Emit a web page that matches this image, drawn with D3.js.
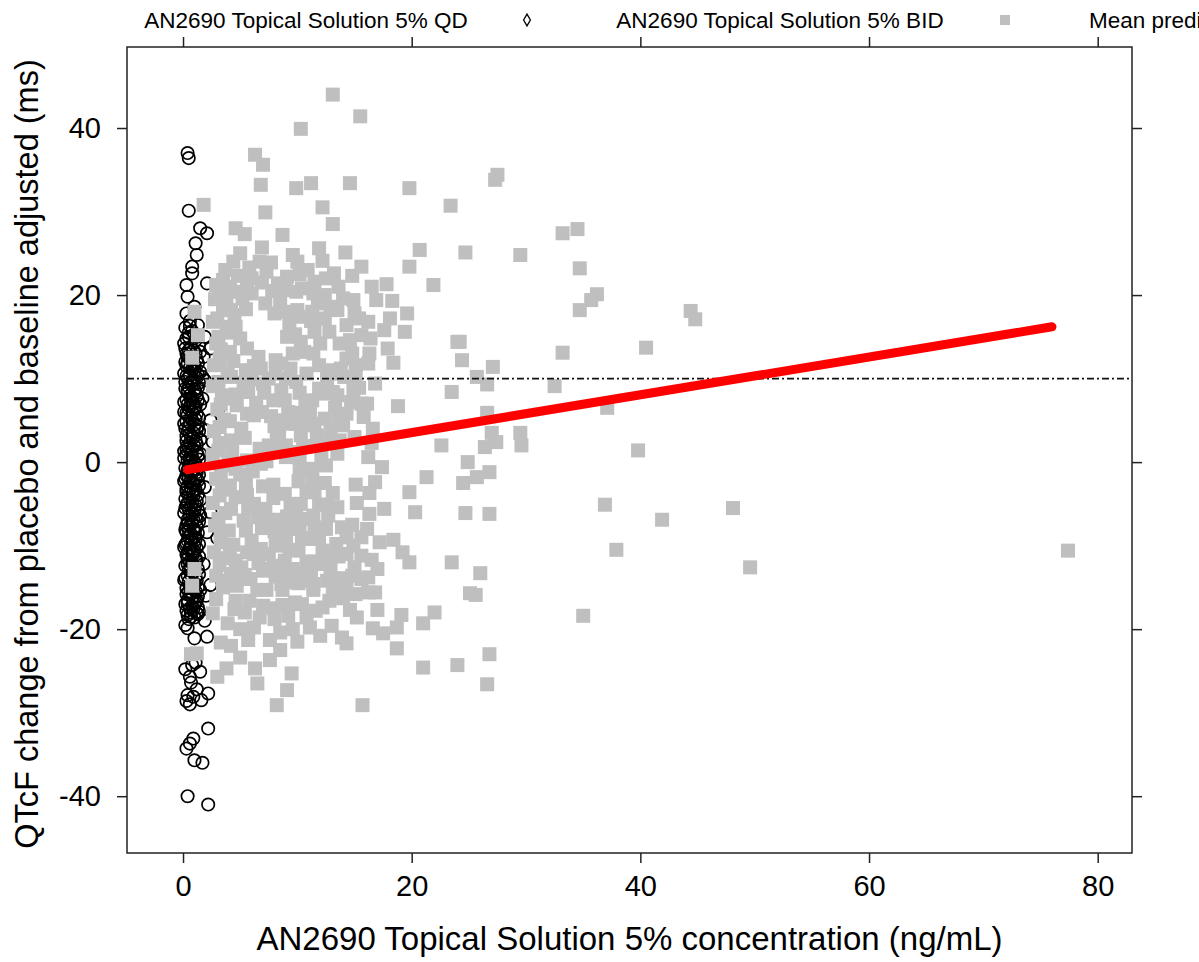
<!DOCTYPE html>
<html>
<head>
<meta charset="utf-8">
<script src="https://cdn.jsdelivr.net/npm/d3@7"></script>
<style>
  html, body { margin: 0; padding: 0; background: #fff; }
  svg { display: block; font-family: "Liberation Sans", Arial, sans-serif; }
</style>
</head>
<body>
<svg id="chart" width="1199" height="962"></svg>
<script>
// ---------------- DATA ----------------
const legendLabels = ["AN2690 Topical Solution 5% QD", "AN2690 Topical Solution 5% BID", "Mean predicted"];
const xTicks = [0, 20, 40, 60, 80];
const yTicks = [-40, -20, 0, 20, 40];
const xTitle = "AN2690 Topical Solution 5% concentration (ng/mL)";
const yTitle = "QTcF change from placebo and baseline adjusted (ms)";
const refLineY = 10;

// QD: [concentration ng/mL, dQTcF ms]
const qdData = [
  [0.4,37.0],[0.5,36.4],[0.5,30.1],[1.5,28.0],[2.1,27.4],[1.1,26.2],[1.2,24.8],[0.8,23.4],[0.8,22.6],
  [0.3,21.2],[2.1,21.4],[0.4,19.8],[0.3,17.8],[1.0,18.6],[0.6,16.9],
  [2.4,13.6],[1.7,10.2],[1.9,9.8],[3.2,6.6],[2.4,5.0],[2.6,2.4],[2.4,-6.0],[3.0,-9.1],[2.4,-14.7],
  [0.2,-19.5],[0.4,-19.9],[1.0,-21.1],[2.1,-20.9],[0.8,-24.3],[1.5,-25.1],[0.6,-25.7],[0.4,-27.9],
  [0.9,-28.1],[2.2,-27.7],[2.2,-31.9],[0.9,-33.1],[0.6,-33.7],[0.3,-34.3],[1.0,-35.7],[1.7,-36.0],
  [0.4,-40.0],[2.2,-41.0],
  [0.5,-18.8],[1.3,-18.2],[1.9,-19.0],[0.9,-17.6],[0.2,-24.8],[0.7,-26.4],[1.1,-24.0],
  [0.3,-28.6],[1.2,-27.2],[0.6,-29.0],[1.6,-28.5],
  [0.2,16.1],[0.8,15.7],[1.3,16.4],[0.5,15.0],[1.1,14.6],[0.1,14.2],
  [0.7,13.8],[1.5,13.2],[0.3,13.0],[0.9,12.4],[0.2,12.0],[1.3,11.8],
  [0.6,11.3],[1.0,10.9],[0.1,10.6],[0.4,10.0],[1.4,9.5],[0.8,9.3],
  [0.2,8.8],[1.1,8.4],[0.6,8.0],[0.3,7.5],[0.9,7.1],[1.5,6.9],
  [0.5,6.4],[0.1,6.0],[1.2,5.8],[0.7,5.3],[0.3,4.9],[1.0,4.5],
  [0.2,4.0],[1.4,3.7],[0.6,3.4],[0.9,2.9],[0.3,2.5],[1.2,2.1],
  [0.5,1.7],[0.1,1.3],[1.5,1.0],[0.8,0.6],[0.4,0.2],[1.1,-0.2],
  [0.2,-0.7],[0.9,-1.1],[1.4,-1.5],[0.5,-1.9],[0.1,-2.3],[1.0,-2.7],
  [0.7,-3.1],[0.3,-3.6],[1.3,-3.9],[0.2,-4.4],[0.8,-4.8],[1.1,-5.2],
  [0.5,-5.6],[0.1,-6.1],[1.5,-6.4],[0.9,-6.9],[0.4,-7.3],[1.2,-7.7],
  [0.2,-8.1],[0.7,-8.6],[1.0,-9.0],[0.4,-9.4],[1.4,-9.8],[0.1,-10.2],
  [0.8,-10.7],[0.3,-11.1],[1.1,-11.5],[0.6,-11.9],[0.2,-12.4],[1.3,-12.8],
  [0.9,-13.2],[0.4,-13.6],[0.1,-14.1],[1.0,-14.5],[0.6,-14.9],[1.5,-15.3],
  [0.3,-15.8],[0.8,-16.2],[1.2,-16.6],[0.2,-17.0],[0.6,-17.5],[1.4,-17.9],
  [0.4,-18.3],[1.0,-18.6],
  [1.8,12.6],[2.0,3.8],[1.9,-3.0],[2.1,-8.4],[1.8,-12.2],[2.0,-16.0],[1.7,7.6],[1.9,15.0],
  [0.6,16.3],[1.0,15.3],[0.3,14.8],[1.4,14.0],[0.5,13.4],[1.1,13.0],[0.4,12.6],[0.7,12.2],[1.0,11.6],
  [0.3,11.5],[1.5,10.8],[0.6,10.4],[1.2,10.1],[0.2,9.6],[0.9,9.8],[0.5,9.0],[1.3,8.9],[0.4,8.3],
  [0.8,7.7],[1.3,7.4],[0.1,7.2],[0.6,6.7],[1.0,6.3],[0.3,5.9],[1.4,5.3],[0.8,5.0],[0.1,4.6],
  [0.5,4.2],[1.2,3.9],[0.9,3.5],[0.3,3.1],[1.5,2.7],[0.6,2.3],[1.0,1.9],[0.3,1.5],[1.2,1.2],
  [0.7,0.9],[0.1,0.5],[1.4,0.3],[0.6,-0.1],[0.9,-0.5],[0.4,-1.0],[1.2,-1.2],[0.7,-1.6],[0.2,-2.0],
  [1.3,-2.2],[0.8,-2.5],[0.4,-2.9],[1.1,-3.3],[0.5,-3.8],[0.9,-4.1],[1.5,-4.5],[0.4,-4.9],[0.7,-5.3],
  [1.3,-5.7],[0.2,-5.5],[0.8,-6.2],[1.1,-6.6],[0.4,-6.9],[1.4,-7.1],[0.6,-7.6],[0.9,-8.0],[0.3,-8.4],
  [1.3,-8.5],[0.5,-8.9],[1.1,-9.3],[0.7,-9.7],[0.2,-9.9],[1.2,-10.3],[0.5,-10.5],[0.9,-11.0],[1.4,-11.3],
  [0.4,-11.6],[0.8,-12.1],[1.0,-12.5],[0.5,-12.9],[1.4,-13.4],[0.7,-13.5],[0.2,-13.9],[1.2,-14.2],
  [0.8,-14.7],[0.3,-15.1],[1.1,-15.5],[0.6,-15.9],[1.3,-16.1],[0.4,-16.5],[1.0,-17.0],[0.8,-17.3],
  [0.3,-17.8],[1.2,-18.1],[0.7,-18.5],
  [0.5,15.5],[1.2,15.0],[0.2,13.6],[0.9,13.4],[1.2,12.3],[0.4,11.9],[0.8,11.1],[1.3,10.5],[0.3,10.3],
  [0.7,9.6],[1.0,8.7],[0.4,8.6],[1.2,7.9],[0.7,7.4],[0.4,6.9],[1.1,6.7],[0.8,6.0],[0.4,5.6],[1.1,5.1],
  [0.6,4.7],[1.3,4.3],[0.4,3.7],[0.7,3.0],[1.1,2.6],[0.4,2.0],[0.8,1.5],[1.3,0.8],[0.3,0.9],[0.6,0.3],
  [1.0,0.0],[0.5,-0.6],[1.2,-0.8],[0.7,-1.3],[0.3,-1.6],[1.1,-1.9],[0.6,-2.4],[1.4,-2.8],[0.3,-3.2],
  [0.9,-3.6],[0.6,-4.4],[1.2,-4.7],[0.3,-5.1],[1.0,-5.8],[0.6,-6.4],[1.2,-6.9],[0.3,-7.6],[0.8,-7.3],
  [1.0,-8.2],[0.5,-8.2],[0.8,-9.2],[0.3,-9.7],[1.0,-9.9],[0.6,-10.3],[1.0,-10.7],[0.4,-10.9],[1.2,-11.8],
  [0.7,-12.6],[0.4,-12.2],[1.1,-13.8],[0.5,-14.3],[0.9,-15.0],[0.5,-15.5],[1.3,-15.0],[0.8,-15.7],
  [0.4,-16.9],[1.1,-16.8],[0.7,-18.0],[1.3,-17.4]
];

// BID: [concentration ng/mL, dQTcF ms]
const bidData = [
  // upper
  [13.1,44.0],[15.5,41.4],[10.3,39.9],[6.3,36.8],[7.0,35.6],[6.8,33.2],[9.9,32.8],[11.2,33.4],[14.6,33.4],
  [19.8,32.8],[7.2,29.9],[12.2,30.5],[23.4,30.7],[1.8,30.8],[13.1,28.5],[4.6,28.0],[5.4,27.3],[8.7,27.2],
  [6.9,25.7],[14.2,25.1],[20.7,25.4],[24.7,25.1],[21.9,21.2],[12.2,24.1],[10.0,24.0],[4.4,24.0],[7.3,22.8],
  [9.1,22.2],[3.5,21.8],[16.5,21.0],[16.9,19.4],[14.9,19.4],[12.4,20.0],[19.6,17.8],[18.1,17.2],[13.5,18.2],
  [6.0,20.2],[10.0,18.2],[3.0,17.2],[19.8,23.4],[27.5,34.4],[27.3,33.8],[33.2,27.4],[34.5,27.9],[29.5,24.8],
  [34.7,23.2],[36.2,20.1],[35.7,19.4],[34.7,18.2],[44.4,18.1],[44.8,17.1],[40.5,13.7],[33.2,13.1],[24.2,14.4],
  [24.4,12.2],[27.1,11.4],[25.7,10.2],[26.6,9.3],[32.5,9.1],[26.6,5.9],[37.1,6.5],
  // dense middle block
  [1.0,18.0],[0.8,12.5],[0.8,-14.8],[0.7,-23.0],
  [2.8,19.5],[2.6,16.8],[1.3,15.2],[2.9,14.2],[2.7,11.6],[2.6,9.1],[3.0,6.3],[2.7,3.7],[2.6,0.9],
  [2.9,-2.0],[2.6,-4.9],[2.8,-7.6],[2.7,-10.8],[2.9,-13.6],[1.0,-12.8],
  [3.5,18.8],[3.8,16.2],[3.3,13.5],[3.9,10.7],[3.4,8.0],[3.6,5.1],[3.2,2.3],[3.9,-0.4],[3.4,-3.3],
  [3.7,-6.1],[3.3,-8.8],[3.8,-11.5],[3.5,-14.2],
  [4.8,22.3],[5.2,19.6],[4.5,17.6],[5.0,14.8],[4.4,12.1],[5.3,9.5],[4.7,6.8],[5.1,4.0],[4.3,1.2],
  [5.0,-1.5],[4.6,-4.2],[5.3,-7.0],[4.4,-9.9],[5.1,-12.6],[4.7,-14.8],
  [5.8,23.3],[6.6,12.6],[6.0,9.9],[6.4,7.1],[6.7,1.6],[6.1,-1.1],[5.6,-3.9],[6.5,-6.6],[6.0,-9.4],
  [6.6,-12.1],[5.9,-14.0],
  [7.8,20.5],[7.2,19.0],[8.1,10.6],[7.1,8.3],[7.7,5.5],[8.2,2.8],[7.3,0.1],[7.9,-2.7],[7.2,-5.6],
  [8.0,-8.3],[7.5,-11.0],[8.1,-13.7],
  [8.5,19.0],[9.3,16.5],[9.4,11.2],[8.6,8.6],[9.2,6.0],[8.4,3.4],[9.0,0.6],[9.4,-5.0],[8.8,-7.9],
  [9.3,-10.5],[8.5,-13.3],
  [10.4,20.8],[9.8,15.3],[10.6,13.2],[9.9,9.6],[10.7,7.3],[9.9,4.6],[10.5,1.9],[10.2,-0.9],[10.8,-3.6],
  [9.9,-6.4],[10.4,-9.1],[10.8,-11.9],[10.1,-14.5],
  [11.5,21.6],[11.8,19.0],[11.2,16.9],[12.0,14.2],[11.9,8.8],[11.1,6.0],[11.7,3.2],[12.1,0.5],[11.3,-2.2],
  [11.9,-5.1],[11.5,-7.8],[12.2,-10.6],[11.2,-13.2],
  [12.8,15.6],[12.6,9.6],[13.3,6.5],[12.9,3.9],[13.5,1.0],[12.7,-6.4],[13.4,-9.8],[12.9,-12.7],
  [14.3,16.4],[14.8,13.0],[14.1,10.2],[14.7,7.2],[14.0,4.4],[14.3,-11.0],[14.8,-13.6],
  [15.6,15.2],[16.2,11.8],[15.4,8.9],[15.8,5.4],[15.6,-9.0],[16.5,-11.7],[16.2,-13.8],
  [18.4,11.9],[23.5,8.4],[18.8,6.7],[22.6,2.0],[21.3,-1.8],[19.8,-3.6],[24.5,-2.5],[24.7,-6.1],[20.3,-6.0],
  [17.2,-9.6],[19.2,-10.8],[19.8,-12.0],[23.5,-12.0],[16.8,-2.4],[16.3,-3.7],[13.1,-3.7],[15.2,-4.9],
  [13.9,-7.8],[14.8,-7.5],[16.5,2.3],[16.4,14.8],[19.4,15.6],[24.0,14.4],[18.4,-9.3],
  [27.0,3.5],[27.4,2.4],[26.4,1.8],[29.5,3.5],[29.6,2.0],[24.9,0.0],[26.8,-1.2],[25.7,-1.8],[26.8,-6.2],
  [26.0,-13.3],
  [36.9,-5.1],[41.9,-6.9],[48.1,-5.5],[39.8,1.4],[37.9,-10.5],[49.6,-12.6],[77.4,-10.6],[35.0,-18.4],
  // dense block, second layer
  [3.2,20.5],[3.1,15.0],[3.2,12.3],[3.1,9.6],[3.3,6.9],[3.2,4.2],[3.1,1.4],[3.3,-1.2],[3.2,-4.0],
  [3.1,-6.8],[3.3,-9.6],[3.2,-12.3],
  [4.1,21.0],[4.2,18.2],[4.0,15.5],[4.1,13.2],[4.2,10.2],[4.0,7.6],[4.1,4.9],[4.2,2.6],[4.0,-0.2],
  [4.1,-2.8],[4.2,-5.6],[4.0,-8.2],[4.1,-11.0],[4.2,-13.4],
  [5.6,21.2],[5.5,18.3],[5.6,13.6],[5.5,11.0],[5.7,8.4],[5.6,5.8],[5.4,2.9],[5.6,0.2],[5.5,-2.6],
  [5.7,-5.4],[5.5,-8.2],[5.6,-10.8],[5.4,-13.5],
  [6.9,21.5],[6.8,11.2],[7.0,9.4],[6.9,6.0],[6.8,-0.2],[7.0,-2.9],[6.9,-7.9],[6.8,-10.4],[7.0,-13.0],
  [8.0,17.8],[8.1,12.2],[7.9,7.4],[8.0,4.3],[8.1,1.3],[7.9,-4.3],[8.0,-6.9],[8.1,-9.6],[7.9,-12.4],
  [9.0,20.6],[8.9,18.0],[9.1,15.0],[9.0,10.0],[8.9,7.4],[9.1,4.6],[9.0,2.0],[8.9,-3.8],[9.1,-6.5],
  [9.0,-9.2],[8.9,-11.8],[9.1,-14.4],
  [10.2,22.5],[10.1,17.4],[10.3,14.4],[10.2,8.3],[10.1,5.9],[10.3,3.2],[10.2,0.5],[10.1,-2.3],[10.3,-5.0],
  [10.2,-7.8],[10.1,-10.6],[10.3,-13.3],
  [11.4,20.2],[11.3,18.0],[11.5,15.6],[11.4,13.0],[11.3,7.4],[11.5,4.6],[11.4,1.9],[11.3,-0.8],[11.5,-3.6],
  [11.4,-6.4],[11.3,-9.2],[11.5,-11.9],[11.4,-14.6],
  [12.5,22.0],[12.4,17.2],[12.6,11.0],[12.5,8.2],[12.4,5.2],[12.6,2.4],[12.5,-0.4],[12.4,-2.5],[12.6,-5.1],
  [12.5,-8.0],[12.4,-11.4],[12.6,-14.2],
  [13.6,21.0],[13.7,14.2],[13.5,8.0],[13.6,5.2],[13.7,2.6],[13.5,-5.4],[13.6,-11.3],[13.7,-13.9],
  [15.0,17.8],[15.1,11.6],[14.9,8.6],[15.0,3.0],[15.1,-2.7],[14.9,-10.0],[15.0,-12.6],[15.1,-15.8],
  [16.2,16.8],[16.3,13.0],[16.1,7.0],[16.2,0.6],[16.3,-6.2],[16.1,-8.0],[16.2,-15.6],
  // dense block, third layer
  [2.9,21.2],[3.7,23.0],[5.0,25.0],[6.0,22.0],[6.7,24.0],[7.7,23.9],[8.3,21.4],[9.6,24.8],[10.9,23.0],
  [11.9,25.6],[13.2,22.6],[14.8,22.3],[15.6,23.4],[17.8,21.3],[18.3,19.3],[17.6,15.8],[17.9,13.6],
  [4.6,16.2],[6.2,11.5],[7.5,10.0],[8.6,11.8],[9.6,13.0],[10.8,10.6],[11.9,11.6],[13.1,10.6],[14.3,12.4],
  [4.6,8.1],[6.2,5.6],[7.5,2.0],[8.6,5.0],[9.6,1.2],[10.8,4.4],[11.9,2.0],[13.1,8.4],[14.3,5.8],[15.6,7.0],
  [4.6,-0.8],[6.2,-5.0],[7.5,-7.2],[8.6,-10.0],[9.6,-8.0],[10.8,-6.8],[11.9,-9.0],[13.1,-11.0],[14.3,-9.0],
  [15.6,-11.2],[4.6,-11.8],[6.2,-11.0],[7.5,-12.8],[8.6,-14.6],[9.6,-12.8],[10.8,-14.2],[11.9,-12.2],
  [13.1,-15.6],[14.3,-14.8],[15.6,-14.0],
  [4.5,-17.6],[5.8,-16.6],[7.0,-17.2],[8.0,-18.8],[9.2,-18.4],[10.4,-17.0],[11.6,-17.8],[12.8,-16.6],
  [13.0,-19.6],[12.0,-20.8],[9.6,-20.0],[5.0,-20.0],[6.2,-19.8],[4.2,-22.0],[2.9,-16.4],[3.3,-21.6],
  [3.8,19.8],[4.7,20.4],[9.9,20.4],[12.9,18.6],[14.0,19.6],[15.4,17.2],[14.6,14.6],[13.8,11.2],[15.1,10.2],
  [16.8,9.4],[16.6,4.0],[17.4,-0.6],[17.6,-5.6],[17.0,-12.8],[16.8,-15.6],
  // lower
  [3.5,-15.0],[6.5,-15.3],[7.3,-15.3],[8.7,-15.3],[11.4,-15.3],[13.5,-14.5],[14.0,-16.3],[14.6,-17.7],
  [15.2,-18.6],[17.0,-17.7],[16.6,-19.9],[17.5,-20.5],[18.7,-19.8],[19.1,-18.3],[18.7,-22.3],[21.0,-19.3],
  [22.0,-18.0],[24.0,-24.3],[21.0,-24.6],[15.7,-29.1],[8.2,-29.1],[9.1,-27.3],[9.5,-25.3],[6.5,-26.5],
  [6.3,-24.7],[7.6,-23.7],[8.5,-22.5],[8.5,-20.4],[7.6,-21.3],[5.7,-21.3],[6.7,-18.6],[7.9,-17.5],
  [8.7,-17.1],[11.1,-19.8],[10.8,-18.6],[13.9,-21.0],[14.3,-21.7],[3.8,-24.7],[3.0,-25.7],[3.9,-19.3],
  [2.6,-18.1],[1.2,-22.9],[25.1,-15.7],[25.6,-15.9],[26.8,-23.0],[26.6,-26.6],
  [4.6,-16.6],[5.4,-18.0],[9.8,-16.8],[12.2,-17.4],[5.0,-23.4],[10.0,-21.5]
];

// Mean predicted line endpoints
const predConc = [0.4, 76.0];
const predQTc = [-0.9, 16.2];

// ---------------- CHART ----------------
const svg = d3.select("#chart");
const mL = 127, mR = 1132, mT = 47, mB = 853;
const x = d3.scaleLinear().domain([-4.9, 83]).range([mL, mR]);
const y = d3.scaleLinear().domain([-46.8, 49.7]).range([mB, mT]);

const axisColor = "#222";

svg.append("defs").append("clipPath").attr("id", "clip")
  .append("rect").attr("x", mL).attr("y", mT).attr("width", mR - mL).attr("height", mB - mT);

const plot = svg.append("g").attr("clip-path", "url(#clip)");

// QD circles
plot.append("g").selectAll("circle").data(qdData).join("circle")
  .attr("cx", d => x(d[0])).attr("cy", d => y(d[1])).attr("r", 6.2)
  .attr("fill", "none").attr("stroke", "#000").attr("stroke-width", 1.7);

// BID squares
const sq = 14;
plot.append("g").selectAll("rect").data(bidData).join("rect")
  .attr("x", d => x(d[0]) - sq / 2).attr("y", d => y(d[1]) - sq / 2)
  .attr("width", sq).attr("height", sq).attr("fill", "#bfbfbf");

// Reference line
plot.append("line")
  .attr("x1", mL).attr("x2", mR).attr("y1", y(refLineY)).attr("y2", y(refLineY))
  .attr("stroke", "#111").attr("stroke-width", 1.8).attr("stroke-dasharray", "7,3,2,3");

// Predicted line
const predPts = predConc.map((c, i) => [c, predQTc[i]]);
plot.append("path").datum(predPts)
  .attr("d", d3.line().x(d => x(d[0])).y(d => y(d[1])))
  .attr("fill", "none").attr("stroke", "#ff0000").attr("stroke-width", 9).attr("stroke-linecap", "round");

// Box
svg.append("rect").attr("x", mL).attr("y", mT).attr("width", mR - mL).attr("height", mB - mT)
  .attr("fill", "none").attr("stroke", axisColor).attr("stroke-width", 1.5);

// Axes
function styleAxis(g) {
  g.select(".domain").remove();
  g.selectAll(".tick line").attr("stroke", axisColor).attr("stroke-width", 1.5);
  g.selectAll(".tick text").attr("fill", "#000").style("font-family", '"Liberation Sans", Arial, sans-serif');
}
svg.append("g").attr("transform", `translate(0,${mB})`)
  .call(d3.axisBottom(x).tickValues(xTicks).tickSize(10).tickPadding(12).tickSizeOuter(0))
  .call(styleAxis).call(g => g.selectAll(".tick text").style("font-size", "29px"));
svg.append("g").attr("transform", `translate(0,${mT})`)
  .call(d3.axisTop(x).tickValues(xTicks).tickSize(10).tickFormat("").tickSizeOuter(0))
  .call(styleAxis);
svg.append("g").attr("transform", `translate(${mL},0)`)
  .call(d3.axisLeft(y).tickValues(yTicks).tickSize(10).tickPadding(16).tickSizeOuter(0).tickFormat(d => d < 0 ? "-" + Math.abs(d) : d))
  .call(styleAxis).call(g => g.selectAll(".tick text").style("font-size", "29px"));
svg.append("g").attr("transform", `translate(${mR},0)`)
  .call(d3.axisRight(y).tickValues(yTicks).tickSize(10).tickFormat("").tickSizeOuter(0))
  .call(styleAxis);

// Titles
svg.append("text").attr("x", (mL + mR) / 2).attr("y", 950)
  .attr("text-anchor", "middle").style("font-size", "33px").attr("fill", "#000").text(xTitle);
svg.append("text").attr("transform", `translate(38,${(mT + mB) / 2 + 4}) rotate(-90)`)
  .attr("text-anchor", "middle").style("font-size", "32.5px").attr("fill", "#000").text(yTitle);

// Legend (top)
const lg = svg.append("g");
lg.append("text").attr("x", 306).attr("y", 28).attr("text-anchor", "middle")
  .style("font-size", "22.5px").text(legendLabels[0]);
lg.append("path").attr("d", d3.symbol(d3.symbolDiamond, 40)()).attr("transform", "translate(527,20)")
  .attr("fill", "none").attr("stroke", "#000").attr("stroke-width", 1.3);
lg.append("text").attr("x", 780).attr("y", 28).attr("text-anchor", "middle")
  .style("font-size", "22.5px").text(legendLabels[1]);
lg.append("rect").attr("x", 1000).attr("y", 15).attr("width", 10).attr("height", 10).attr("fill", "#bfbfbf");
lg.append("text").attr("x", 1089).attr("y", 28).attr("text-anchor", "start")
  .style("font-size", "22.5px").text(legendLabels[2]);
</script>
</body>
</html>
